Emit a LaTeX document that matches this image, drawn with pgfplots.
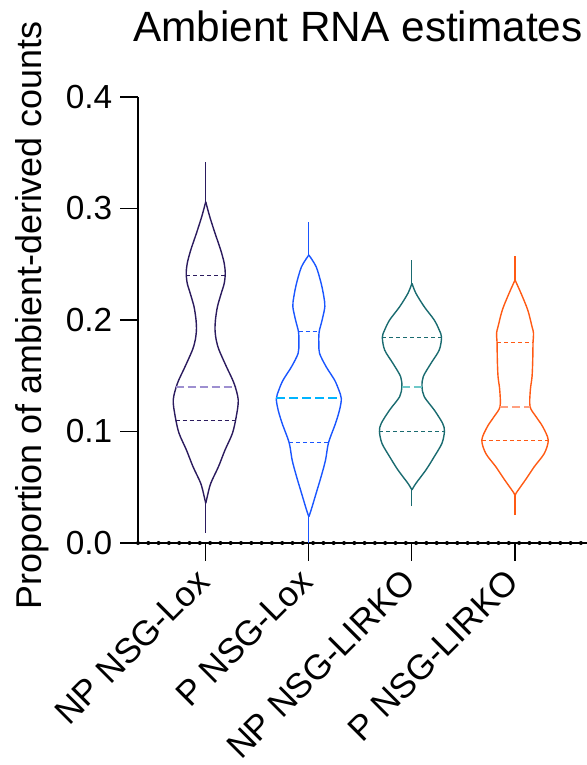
\documentclass[border=0pt]{standalone}
\usepackage{pgfplots}
\pgfplotsset{compat=1.18}
\usepackage{pgfplotstable}
\usepackage{fontspec}
\setmainfont{Liberation Sans}
\definecolor{vA}{RGB}{43,27,94}
\definecolor{vAm}{RGB}{157,143,208}
\definecolor{vB}{RGB}{26,86,255}
\definecolor{vBm}{RGB}{0,180,255}
\definecolor{vC}{RGB}{26,107,112}
\definecolor{vCm}{RGB}{110,200,200}
\definecolor{vD}{RGB}{255,90,20}
\definecolor{vDm}{RGB}{255,160,128}

\pgfplotstableread{
y w
0.0356 0
0.0415 1.5
0.0535 5
0.0684 12.7
0.0834 19.3
0.0984 26.7
0.1133 30.5
0.1283 32.5
0.1432 28.3
0.1581 20.7
0.1731 13.3
0.1820 10.5
0.1910 9.3
0.2000 9.7
0.2119 11.7
0.2239 15.5
0.2329 18.5
0.2418 19.5
0.2508 18.5
0.2627 15
0.2778 9.3
0.2927 4
0.3060 0
}\vioA
\pgfplotstableread{
y w
0.0236 0
0.0296 2.3
0.0446 7.3
0.0596 12.3
0.0744 16.7
0.0900 19.7
0.1073 26.7
0.1193 30.7
0.1294 32.5
0.1372 30
0.1462 25.7
0.1581 17.3
0.1701 10.7
0.1791 10
0.1892 10.3
0.2000 13.3
0.2120 16
0.2209 15
0.2329 12.3
0.2478 7.3
0.2583 0
}\vioB
\pgfplotstableread{
y w
0.0476 0
0.0535 4
0.0655 14
0.0774 22.3
0.0894 30
0.1002 32.5
0.1073 30.7
0.1193 22.3
0.1312 12.3
0.1402 10.1
0.1492 11.3
0.1611 19
0.1731 27.3
0.1845 29.6
0.1910 27.3
0.2000 22.3
0.2119 12.3
0.2239 4
0.2329 0
}\vioC
\pgfplotstableread{
y w
0.0416 0
0.0446 1
0.0565 10.3
0.0685 19.3
0.0804 29.3
0.0924 33.2
0.1043 27.7
0.1133 21
0.1223 15
0.1372 15.3
0.1492 17
0.1641 17.7
0.1797 18
0.1880 18.5
0.1940 17
0.2090 12.7
0.2239 6
0.2359 0
}\vioD

\newcommand{\violin}[3]{%
  \addplot[#3, line width=1.4bp, smooth, tension=0.5] table[x expr=#2+\thisrow{w}/103.1, y=y] {#1};
  \addplot[#3, line width=1.4bp, smooth, tension=0.5] table[x expr=#2-\thisrow{w}/103.1, y=y] {#1};
}

\begin{document}
\begin{tikzpicture}
\useasboundingbox (0,0) rectangle (587bp,765bp);
\begin{axis}[
  at={(138bp,222bp)}, anchor=south west,
  scale only axis, width=449bp, height=446bp,
  xmin=0.343, xmax=4.698, ymin=0, ymax=0.4,
  axis lines*=left, axis line style={line width=1.3bp},
  clip=false,
  xtick={1,2,3,4},
  xticklabels={NP NSG-Lox, P NSG-Lox, NP NSG-LIRKO, P NSG-LIRKO},
  ytick={0,0.1,0.2,0.3,0.4},
  yticklabel style={/pgf/number format/fixed, /pgf/number format/fixed zerofill, /pgf/number format/precision=1},
  /pgf/number format/assume math mode=true,
  tick align=inside, major tick length=-18bp,
  tick style={black, line width=1.1bp},
  every tick label/.append style={font=\fontsize{33.5}{38}\selectfont},
  xticklabel style={xshift=-11.3bp, yshift=-23.7bp, rotate=45, anchor=north east, inner sep=0pt, font=\fontsize{35}{40}\selectfont},
  yticklabel style={anchor=east, inner sep=0pt, xshift=-25.5bp},
  ylabel={Proportion of ambient-derived counts},
  ylabel style={at={(axis description cs:-0.236,0.51)}, anchor=center, font=\fontsize{36}{41}\selectfont},
  title={Ambient RNA estimates},
  title style={at={(axis description cs:0.49,1.145)}, anchor=center, font=\fontsize{42.5}{48}\selectfont},
]
% violin 1
\violin{\vioA}{1}{vA}
\addplot[vA, line width=1.1bp] coordinates {(1,0.306) (1,0.342)};
\addplot[vA, line width=1.1bp] coordinates {(1,0.009) (1,0.036)};
\addplot[vA, line width=1.1bp, dash pattern=on 4bp off 3bp] coordinates {(0.811,0.24) (1.189,0.24)};
\addplot[vAm, line width=1.3bp, dash pattern=on 8bp off 4bp] coordinates {(0.709,0.14) (1.291,0.14)};
\addplot[vA, line width=1.1bp, dash pattern=on 4bp off 3bp] coordinates {(0.709,0.11) (1.291,0.11)};
% violin 2
\violin{\vioB}{2}{vB}
\addplot[vB, line width=1.1bp] coordinates {(2,0.258) (2,0.288)};
\addplot[vB, line width=1.1bp] coordinates {(2,0) (2,0.024)};
\addplot[vB, line width=1.1bp, dash pattern=on 4bp off 3bp] coordinates {(1.900,0.19) (2.100,0.19)};
\addplot[vBm, line width=1.3bp, dash pattern=on 9bp off 4bp] coordinates {(1.685,0.13) (2.315,0.13)};
\addplot[vB, line width=1.1bp, dash pattern=on 4bp off 3bp] coordinates {(1.809,0.09) (2.191,0.09)};
% violin 3
\violin{\vioC}{3}{vC}
\addplot[vC, line width=1.1bp] coordinates {(3,0.233) (3,0.254)};
\addplot[vC, line width=1.1bp] coordinates {(3,0.033) (3,0.048)};
\addplot[vC, line width=1.1bp, dash pattern=on 4bp off 3bp] coordinates {(2.713,0.1845) (3.287,0.1845)};
\addplot[vCm, line width=1.3bp, dash pattern=on 8bp off 4bp] coordinates {(2.902,0.14) (3.098,0.14)};
\addplot[vC, line width=1.1bp, dash pattern=on 4bp off 3bp] coordinates {(2.685,0.10) (3.315,0.10)};
% violin 4
\violin{\vioD}{4}{vD}
\addplot[vD, line width=1.1bp] coordinates {(4,0.236) (4,0.257)};
\addplot[vD, line width=1.1bp] coordinates {(4,0.025) (4,0.042)};
\addplot[vD, line width=1.1bp, dash pattern=on 4bp off 3bp] coordinates {(3.825,0.18) (4.175,0.18)};
\addplot[vDm, line width=1.3bp, dash pattern=on 8bp off 4bp] coordinates {(3.855,0.122) (4.145,0.122)};
\addplot[vD, line width=1.1bp, dash pattern=on 4bp off 3bp] coordinates {(3.678,0.092) (4.322,0.092)};
% dotted baseline
\addplot[black, line width=4bp, line cap=round, dash pattern=on 0bp off 10.3bp] coordinates {(0.343,0) (4.698,0)};
\end{axis}
\end{tikzpicture}
\end{document}
